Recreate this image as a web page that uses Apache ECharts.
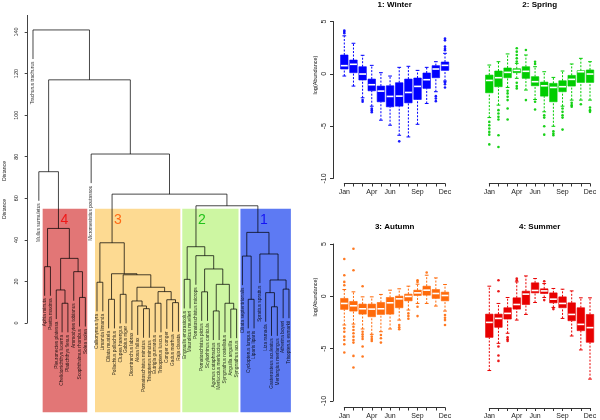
<!DOCTYPE html>
<html><head><meta charset="utf-8">
<script src="https://cdn.jsdelivr.net/npm/echarts@6/dist/echarts.min.js"></script>
<style>html,body{margin:0;padding:0;background:#fff}#c{width:600px;height:420px}</style>
</head><body><div id="c"></div>
<script>
// ---------------- Dendrogram data ----------------
const leafLabels = [
 'Trachurus trachurus','Mullus surmuletus','Aphia minuta','Psetta maxima','Pleuronectes platessa',
 'Chelidonichthys lucerna','Platichthys flesus','Ammodytes tobianus','Scophthalmus rhombus','Solea solea',
 'Micromesistius poutassou','Callionymus lyra','Limanda limanda','Ciliata mustela','Pollachius pollachius',
 'Clupea harengus','Gobius niger','Dicentrarchus labrax','Alosa fallax','Pomatoschistus minutus',
 'Trisopterus minutus','Eutrigla gurnardus','Trisopterus luscus','Conger conger','Gadus morhua',
 'Raja clavata','Engraulis encrasicolus','Maurolicus muelleri','Pomatoschistus microps','Pomatoschistus pictus',
 'Scyliorhinus canicula','Agonus cataphractus','Merluccius merluccius','Syngnathus rostellatus','Anguilla anguilla',
 'Syngnathus acus','Ciliata septentrionalis','Cyclopterus lumpus','Liparis liparis','Sprattus sprattus',
 'Liza ramada','Gasterosteus aculeatus','Merlangius merlangus','Atherina boyeri','Trisopterus esmarkii'
];
// negative = leaf (position in order), positive = earlier merge row (1-based)
const mergeLeft  = [-6,-5,-9,-8,2,-3,6,-2, -12,-14,-16,-20,-19,-18,-22,-25,-24,15,14,11,10,9,
                    -27,-30,-32,-35,-34,25,24,-29,23, -38,-37,-42,-41,-44,35,-40,33, 31,22,-11,8,-1];
const mergeRight = [-7,1,-10,3,4,-4,5,7, -13,-15,-17,-21,12,13,-23,-26,16,17,18,19,20,21,
                    -28,-31,-33,-36,26,27,28,29,30, -39,32,-43,34,-45,36,37,38, 39,40,41,42,43];
const mergeHeight = [9.5,15.9,12.3,24.7,31.1,27.1,45.5,72.8, 19.6,11.4,13.8,6.9,8.2,10.6,9.5,9.8,11.2,15.1,17.2,23.2,23.7,38.6,
                    21.0,15.0,5.8,6.7,9.5,18.6,26.0,32.4,36.7, 11.4,32.2,7.8,14.6,16.3,20.7,33.2,43.6, 56.4,62.0,81.3,117.0,141.0];
const hang = 14;
const distanceTicks = [0,20,40,60,80,100,120,140];
const clusterNames = ['4','3','2','1'];
const clusterFirstLeaf = [3,12,27,37];
const clusterLastLeaf = [10,26,36,45];
const clusterRootMerge = [7,22,31,39];
const clusterFill = ['#E27676','#FDDA92','#CDF6A2','#5D7AF3'];
const clusterTextColor = ['#F01818','#FF6A14','#22C21A','#1414F5'];
const rectTop = 55, rectBottom = -43, clusterLabelHeight = 49.5;

// ---------------- Boxplot data ----------------
const months = ['Jan','Feb','Mar','Apr','May','Jun','Jul','Aug','Sep','Oct','Nov','Dec'];
const shownMonths = ['Jan','Apr','Jun','Sep','Dec'];
const abundanceTicks = [-10,-5,0,5];

const winterLow  = [-0.21,-1.17,-2.29,-3.09,-4.43,-4.91,-5.87,-6.03,-4.82,-2.83,-1.71,-0.69];
const winterQ1   = [0.46,0.11,-0.59,-1.62,-2.67,-3.15,-3.09,-2.77,-2.45,-1.39,-0.37,0.33];
const winterMed  = [0.78,0.91,-0.02,-1.04,-1.65,-2.16,-2.13,-1.78,-1.20,-0.56,0.46,0.81];
const winterQ3   = [1.80,1.32,0.68,-0.50,-1.17,-1.14,-0.85,-0.50,-0.40,0.08,0.78,1.13];
const winterHigh = [3.63,2.92,1.77,0.81,0.11,-0.21,0.62,0.72,0.33,0.62,1.16,1.96];
const winterOut  = [[4.14,4.01,3.88],[],[-2.51,-2.67],[-3.31,-3.47,-3.66],[],[],[-6.45],[],[],[],[-2.13,-2.35,-2.61],[3.38,3.2,2.6,2.4,2.25,-0.8,-1.0,-1.3]];

const springLow  = [-4.18,-2.99,-1.30,-0.43,-1.55,-2.45,-3.63,-5.01,-3.09,-2.51,-2.51,-2.51];
const springQ1   = [-1.81,-1.23,-0.37,0.11,-0.43,-1.14,-2.13,-2.67,-1.71,-1.17,-0.82,-0.82];
const springMed  = [-0.63,-0.37,0.14,0.33,0.24,-0.75,-1.14,-1.30,-1.23,-0.53,0.20,-0.02];
const springQ3   = [-0.12,0.27,0.56,0.49,0.68,-0.27,-0.79,-0.91,-0.66,-0.15,0.30,0.37];
const springHigh = [0.84,1.16,1.90,1.00,1.80,0.68,0.20,-0.34,0.27,0.94,1.48,1.16];
const springOut  = [[-4.59,-4.91,-5.23,-5.55,-5.81,-6.74],[-3.47,-3.79,-4.11,-4.37,-5.87,-6.99],[-1.62,-1.87,-2.19,-2.51,-3.31,-4.37],
  [2.44,2.12,1.8,1.48,1.17,-0.85,-1.17,-1.39],[2.28,-2.51],[1.16,0.94,-2.67,-3.41],[-3.95,-4.18,-5.01,-5.81],[-5.49,-5.71,-5.87],
  [-3.31,-3.63,-3.95,-4.18,-5.33],[-2.77,-2.99,-3.15],[-2.9],[-3.22,-3.47,-3.63]];

const autumnLow  = [-2.74,-2.65,-3.12,-3.63,-3.38,-3.12,-2.27,-1.31,-0.68,-0.68,-0.93,-1.41];
const autumnQ1   = [-1.25,-1.41,-1.70,-1.95,-1.73,-1.70,-1.09,-0.43,0.08,0.11,-0.20,-0.43];
const autumnMed  = [-0.68,-0.90,-1.19,-1.22,-1.19,-0.62,-0.24,-0.01,0.33,0.59,0.27,0.08];
const autumnQ3   = [-0.20,-0.49,-0.74,-0.74,-0.59,-0.11,0.02,0.21,0.59,0.97,0.65,0.40];
const autumnHigh = [0.65,0.43,-0.05,-0.05,0.18,0.59,0.72,0.97,1.16,2.02,1.76,1.13];
const autumnOut  = [[3.57,2.02,1.38,1.06,-3.06,-3.38,-3.85,-4.17,-4.58,-5.37],[4.55,2.49,-2.9,-3.22,-3.53,-3.85,-4.17,-4.42,-5.69,-6.8],
  [0.97,-3.38,-3.63,-3.85,-4.07,-4.8,-5.75],[-3.85,-4.07,-4.26],[-3.69,-4.01,-4.42],[],[-2.74,-2.96,-3.15],[-1.63,-1.89,-2.14],
  [1.54,1.38,-1.0,-1.89],[2.27],[],[-1.79,-2.04,-2.27,-2.74]];

const summerLow  = [-7.09,-4.49,-3.53,-2.27,-1.73,-0.59,-0.11,-1.06,-2.11,-3.79,-5.12,-7.91];
const summerQ1   = [-3.92,-2.96,-2.17,-1.22,-0.78,0.33,0.27,-0.62,-1.09,-2.33,-3.28,-4.39];
const summerMed  = [-2.49,-2.11,-1.63,-0.78,0.21,0.56,0.52,-0.27,-0.68,-1.73,-2.68,-2.99];
const summerQ3   = [-1.70,-1.70,-1.09,-0.14,0.49,1.29,0.72,0.33,-0.05,-0.62,-1.09,-1.73];
const summerHigh = [0.97,-0.68,-0.11,1.38,1.95,1.70,1.22,0.75,0.68,0.52,-0.14,-0.14];
const summerOut  = [[],[1.54,0.49,-4.8,-5.66,-6.17],[-3.92,-4.11,-4.26],[1.7,1.54],[],[],[1.44,-0.36],[-1.22],[],[],[],[]];

const panelTitles = ['1: Winter','2: Spring','3: Autumn','4: Summer'];
const panelColors = ['#0000FF','#00CD00','#FF6A0A','#E80000'];

// ---------------- Build ----------------
const FONT = 'Liberation Sans';
const mergeX = [];
const segData = [];
const leafEnd = new Array(leafLabels.length).fill(0);
function childX(c){ return c < 0 ? -c : mergeX[c-1]; }
function childTop(c, h){ return c < 0 ? h - hang : mergeHeight[c-1]; }
for (let i = 0; i < mergeHeight.length; i++) {
  const a = mergeLeft[i], b = mergeRight[i], h = mergeHeight[i];
  const xa = childX(a), xb = childX(b);
  mergeX.push((xa + xb) / 2);
  segData.push([xa, childTop(a, h), xb, childTop(b, h), h]);
  if (a < 0) leafEnd[-a-1] = h - hang;
  if (b < 0) leafEnd[-b-1] = h - hang;
}
const leafData = leafLabels.map((n, i) => [i + 1, leafEnd[i]]);
const rectData = clusterNames.map((n, i) => [clusterFirstLeaf[i] - 0.34, clusterLastLeaf[i] + 0.33, rectTop, rectBottom, i]);
const clusterLabelData = clusterNames.map((n, i) => [mergeX[clusterRootMerge[i]-1], clusterLabelHeight, i]);

const seasons = [
  [winterLow, winterQ1, winterMed, winterQ3, winterHigh, winterOut],
  [springLow, springQ1, springMed, springQ3, springHigh, springOut],
  [autumnLow, autumnQ1, autumnMed, autumnQ3, autumnHigh, autumnOut],
  [summerLow, summerQ1, summerMed, summerQ3, summerHigh, summerOut]
];

const panelLeft = [344.3, 489.3, 344.3, 489.3];
const panelTop = [21.5, 21.5, 244, 244];
const panelH = 157, panelW = 100.7;
const panelXOffset = [5, 5, 6.5, 7];

const grids = [{left: 27.18, top: 15.4, width: 267.6, height: 307.6, outerBoundsMode: 'none'}];
const xAxes = [{type: 'value', gridIndex: 0, min: 0, max: 46, show: false}];
const yAxes = [{
  type: 'value', gridIndex: 0, min: 0, max: 148, offset: 4.5,
  splitLine: {show: false},
  axisLine: {show: true, lineStyle: {color: '#444', width: 1}},
  axisTick: {show: true, length: 2.5, customValues: distanceTicks, lineStyle: {color: '#444'}},
  axisLabel: {show: true, rotate: 90, fontSize: 5.5, margin: 3, color: '#222', fontFamily: FONT, customValues: distanceTicks}
}];

for (let p = 0; p < 4; p++) {
  grids.push({left: panelLeft[p], top: panelTop[p], width: panelW, height: panelH, outerBoundsMode: 'none'});
  xAxes.push({
    type: 'value', gridIndex: p + 1, min: 1, max: 12, interval: 1, offset: panelXOffset[p],
    splitLine: {show: false},
    axisLine: {show: true, onZero: false, lineStyle: {color: '#333', width: 1}},
    axisTick: {show: true, length: 3, lineStyle: {color: '#333'}},
    axisLabel: {fontSize: 7, margin: 5, color: '#222', fontFamily: FONT, showMinLabel: true, showMaxLabel: true,
      formatter: v => { const m = months[Math.round(v) - 1]; return shownMonths.indexOf(m) >= 0 ? m : ''; }}
  });
  const showY = (p === 0 || p === 2);
  yAxes.push({
    type: 'value', gridIndex: p + 1, min: -10, max: 5, interval: 5, offset: 11.3, show: showY,
    splitLine: {show: false},
    axisLine: {show: true, onZero: false, lineStyle: {color: '#333', width: 1}},
    axisTick: {show: true, length: 3, lineStyle: {color: '#333'}},
    axisLabel: {rotate: 90, fontSize: 7, margin: 5, color: '#222', fontFamily: FONT}
  });
}

const series = [];
// rectangles (under lines)
series.push({
  type: 'custom', xAxisIndex: 0, yAxisIndex: 0, data: rectData, z: 1, silent: true,
  renderItem: (params, api) => {
    const p0 = api.coord([api.value(0), api.value(2)]);
    const p1 = api.coord([api.value(1), api.value(3)]);
    return {type: 'rect', shape: {x: p0[0], y: p0[1], width: p1[0] - p0[0], height: p1[1] - p0[1]},
      style: {fill: clusterFill[api.value(4)]}};
  }
});
// dendrogram branches
series.push({
  type: 'custom', xAxisIndex: 0, yAxisIndex: 0, data: segData, z: 3, silent: true,
  renderItem: (params, api) => {
    const a = api.coord([api.value(0), api.value(1)]);
    const b = api.coord([api.value(0), api.value(4)]);
    const c = api.coord([api.value(2), api.value(4)]);
    const d = api.coord([api.value(2), api.value(3)]);
    return {type: 'polyline', shape: {points: [a, b, c, d]},
      style: {stroke: 'rgba(0,0,0,0.72)', lineWidth: 1, fill: null}};
  }
});
// leaf labels
series.push({
  type: 'custom', xAxisIndex: 0, yAxisIndex: 0, data: leafData, z: 4, silent: true,
  renderItem: (params, api) => {
    const p = api.coord([api.value(0), api.value(1)]);
    return {type: 'text', x: p[0], y: p[1] + 2.5, rotation: Math.PI / 2,
      style: {text: leafLabels[params.dataIndex], fontSize: 4.8, fontFamily: FONT, fill: 'rgba(0,0,0,0.82)',
        align: 'right', verticalAlign: 'middle'}};
  }
});
// cluster numbers
series.push({
  type: 'custom', xAxisIndex: 0, yAxisIndex: 0, data: clusterLabelData, z: 4, silent: true,
  renderItem: (params, api) => {
    const p = api.coord([api.value(0), api.value(1)]);
    const i = api.value(2);
    return {type: 'text', x: p[0] + 2, y: p[1],
      style: {text: clusterNames[i], fontSize: 14, fontFamily: FONT, fill: clusterTextColor[i],
        align: 'left', verticalAlign: 'middle'}};
  }
});

// boxplot panels
for (let p = 0; p < 4; p++) {
  const s = seasons[p];
  const color = panelColors[p];
  const boxData = months.map((m, i) => [i + 1, s[0][i], s[1][i], s[2][i], s[3][i], s[4][i]]);
  const outData = [];
  s[5].forEach((arr, i) => arr.forEach(v => outData.push([i + 1, v])));
  series.push({
    type: 'custom', xAxisIndex: p + 1, yAxisIndex: p + 1, data: boxData, z: 3, silent: true,
    renderItem: (params, api) => {
      const x = api.value(0);
      const pl = api.coord([x, api.value(1)]), p1 = api.coord([x, api.value(2)]), pm = api.coord([x, api.value(3)]);
      const p3 = api.coord([x, api.value(4)]), ph = api.coord([x, api.value(5)]);
      const w = 7.5, half = w / 2, cap = w / 4;
      const cx = pm[0];
      return {type: 'group', children: [
        {type: 'line', shape: {x1: cx, y1: pl[1], x2: cx, y2: p1[1]}, style: {stroke: color, lineWidth: 1, lineDash: [2, 1.5]}},
        {type: 'line', shape: {x1: cx, y1: p3[1], x2: cx, y2: ph[1]}, style: {stroke: color, lineWidth: 1, lineDash: [2, 1.5]}},
        {type: 'line', shape: {x1: cx - cap, y1: pl[1], x2: cx + cap, y2: pl[1]}, style: {stroke: color, lineWidth: 1}},
        {type: 'line', shape: {x1: cx - cap, y1: ph[1], x2: cx + cap, y2: ph[1]}, style: {stroke: color, lineWidth: 1}},
        {type: 'rect', shape: {x: cx - half, y: p3[1], width: w, height: p1[1] - p3[1]},
          style: {fill: color, stroke: color, lineWidth: 0.6, opacity: 1}},
        {type: 'line', shape: {x1: cx - half + 0.3, y1: pm[1], x2: cx + half - 0.3, y2: pm[1]}, style: {stroke: '#fff', lineWidth: 1.6}}
      ]};
    }
  });
  series.push({
    type: 'scatter', xAxisIndex: p + 1, yAxisIndex: p + 1, data: outData, z: 2, silent: true,
    symbol: 'circle', symbolSize: 2.6, itemStyle: {color: color, opacity: 0.9}
  });
}

const graphic = [];
const titleX = [394.7, 539.7, 394.7, 539.7];
const titleY = [4.7, 4.7, 226.3, 226.7];
for (let p = 0; p < 4; p++) {
  graphic.push({type: 'text', x: titleX[p], y: titleY[p], z: 10,
    style: {text: panelTitles[p], font: 'bold 8px ' + FONT, fill: '#000', align: 'center', verticalAlign: 'middle',
      textAlign: 'center', textVerticalAlign: 'middle'}});
}
[[315, 75], [315, 297]].forEach(pt => graphic.push({type: 'text', x: pt[0], y: pt[1], rotation: Math.PI / 2, z: 10,
  style: {text: 'log(Abundance)', font: '5.5px ' + FONT, fill: '#111', align: 'center', verticalAlign: 'middle',
    textAlign: 'center', textVerticalAlign: 'middle'}}));
[[5, 171], [5, 209]].forEach(pt => graphic.push({type: 'text', x: pt[0], y: pt[1], rotation: Math.PI / 2, z: 10,
  style: {text: 'Distance', font: '5.2px ' + FONT, fill: '#222', align: 'center', verticalAlign: 'middle',
    textAlign: 'center', textVerticalAlign: 'middle'}}));

const chart = echarts.init(document.getElementById('c'), null, {renderer: 'canvas', width: 600, height: 420});
chart.setOption({
  animation: false,
  backgroundColor: '#fff',
  grid: grids, xAxis: xAxes, yAxis: yAxes, series: series, graphic: graphic
});
</script>
</body></html>
